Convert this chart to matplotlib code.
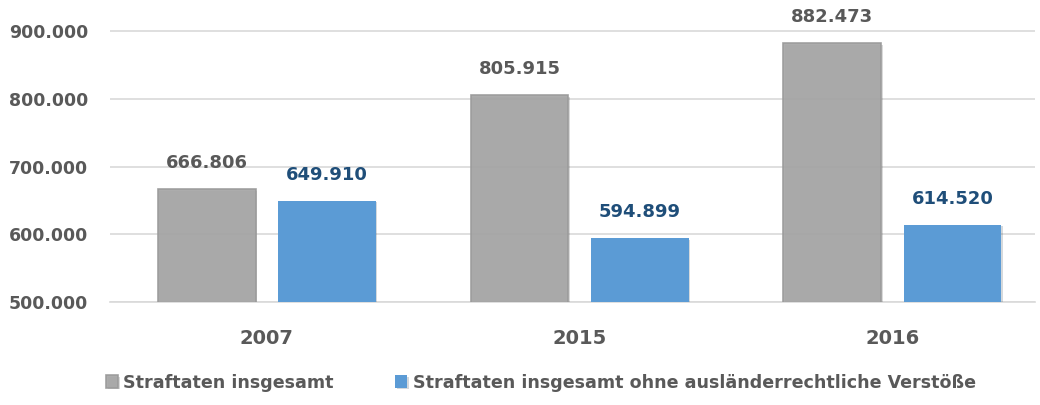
import matplotlib.pyplot as plt
import matplotlib.patheffects as pe
import numpy as np

years = ["2007", "2015", "2016"]
total = [666806, 805915, 882473]
ohne = [649910, 594899, 614520]
labels = ["Straftaten insgesamt", "Straftaten insgesamt ohne ausländerrechtliche Verstöße"]

def fmt(v):
    return f"{v:,}".replace(",", ".")

fig = plt.figure(figsize=(10.4, 4.05), dpi=100)
ax = fig.add_axes([0.106, 0.254, 0.889, 0.746])

x = np.arange(len(years))
w = 0.313
off = 0.192
shadow = [pe.SimplePatchShadow(offset=(1.2, -1.2), alpha=0.18), pe.Normal()]

b1 = ax.bar(x - off, total, width=w, color='#a5a5a5', edgecolor='#9a9a9a',
            linewidth=1.2, alpha=0.92, label=labels[0], zorder=3, path_effects=shadow)
b2 = ax.bar(x + off, ohne, width=w, color='#5b9bd5', edgecolor='#5b9bd5',
            linewidth=0, label=labels[1], zorder=3, path_effects=shadow)

for xi, v in zip(x - off, total):
    ax.annotate(fmt(v), (xi, v), xytext=(0, 12), textcoords='offset points',
                ha='center', va='bottom', fontsize=13, fontweight='bold', color='#595959')
for xi, v in zip(x + off, ohne):
    ax.annotate(fmt(v), (xi, v), xytext=(0, 12), textcoords='offset points',
                ha='center', va='bottom', fontsize=13, fontweight='bold', color='#1f4e79')

ax.set_ylim(500000, 946000)
ax.set_xlim(-0.5, 2.455)
yt = [500000, 600000, 700000, 800000, 900000]
ax.set_yticks(yt)
ax.set_yticklabels([fmt(v) for v in yt])
ax.set_xticks(x)
ax.set_xticklabels(years)
ax.grid(axis='y', color='#d9d9d9', linewidth=1.2, zorder=0)
ax.set_axisbelow(True)
for s in ['top', 'right', 'left']:
    ax.spines[s].set_visible(False)
ax.spines['bottom'].set_color('#d9d9d9')
ax.spines['bottom'].set_linewidth(1.2)
ax.tick_params(axis='y', length=0, pad=16, labelsize=12.5, labelcolor='#595959')
ax.tick_params(axis='x', length=0, pad=19, labelsize=14, labelcolor='#595959')
for t in ax.get_xticklabels() + ax.get_yticklabels():
    t.set_fontweight('bold')

leg = fig.legend(handles=[b1, b2], loc='center', bbox_to_anchor=(0.52, 0.055), ncol=2,
                 frameon=False, handlelength=0.7, handleheight=0.7, handletextpad=0.3,
                 columnspacing=3.5, prop={'size': 12.6, 'weight': 'bold'})
for t in leg.get_texts():
    t.set_color('#595959')

fig.savefig('out.png', dpi=100)
